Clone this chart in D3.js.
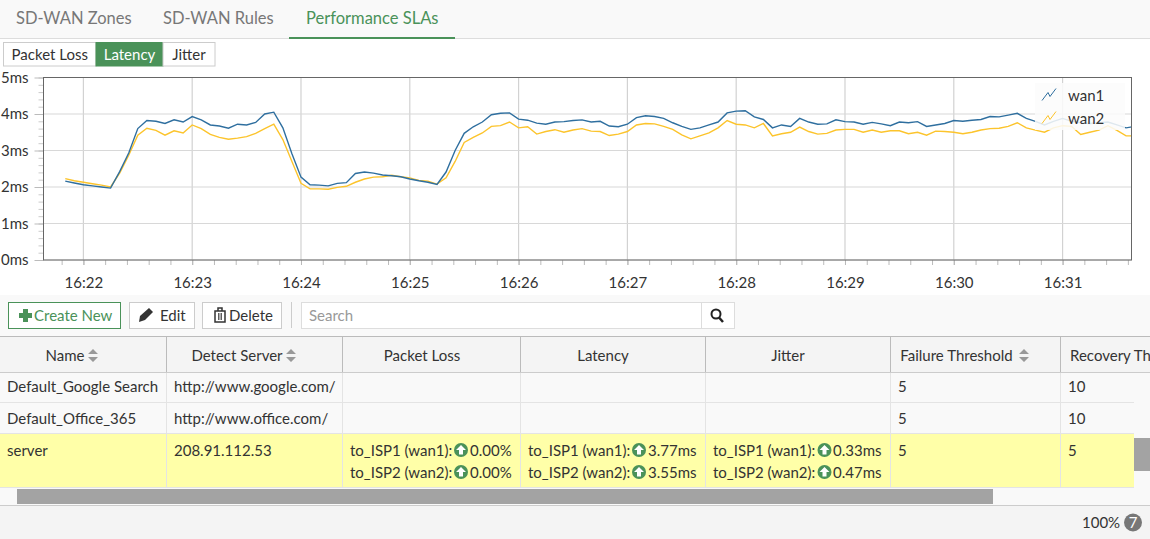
<!DOCTYPE html>
<html>
<head>
<meta charset="utf-8">
<script src="https://cdn.jsdelivr.net/npm/d3@7"></script>
<style>
html, body { margin: 0; padding: 0; background: #f9f9f9; overflow: hidden; }
svg { display: block; font-family: Lato, "Open Sans", sans-serif; }
</style>
</head>
<body>
<script>
// latency samples, one every 5 seconds starting at 16:21:50
var wan1 = [2.16,2.11,2.06,2.03,2.00,1.97,2.42,2.93,3.60,3.82,3.80,3.74,3.84,3.78,3.93,3.84,3.70,3.67,3.61,3.72,
	3.70,3.77,4.00,4.05,3.62,2.91,2.27,2.06,2.05,2.03,2.10,2.12,2.37,2.41,2.38,2.33,2.31,2.28,2.22,2.17,
	2.13,2.07,2.41,3.00,3.47,3.65,3.78,3.98,4.02,4.03,3.86,3.83,3.75,3.72,3.78,3.79,3.82,3.84,3.78,3.80,
	3.67,3.65,3.72,3.90,3.95,3.93,3.88,3.76,3.66,3.58,3.62,3.70,3.78,4.03,4.08,4.09,3.92,3.85,3.62,3.70,
	3.66,3.88,3.78,3.72,3.73,3.84,3.79,3.78,3.72,3.77,3.73,3.68,3.78,3.76,3.79,3.66,3.70,3.74,3.82,3.80,
	3.83,3.85,3.93,3.92,3.97,4.02,3.88,3.80,3.70,3.80,3.88,3.80,3.76,3.74,3.76,3.78,3.70,3.62,3.66];
var wan2 = [2.23,2.17,2.13,2.09,2.05,2.00,2.38,2.87,3.42,3.61,3.55,3.42,3.54,3.48,3.70,3.60,3.44,3.36,3.31,3.34,
	3.38,3.47,3.60,3.72,3.30,2.70,2.10,1.95,1.95,1.94,1.99,2.02,2.13,2.22,2.27,2.28,2.32,2.28,2.25,2.18,
	2.16,2.08,2.25,2.70,3.22,3.36,3.48,3.66,3.68,3.78,3.62,3.65,3.45,3.52,3.57,3.50,3.56,3.60,3.53,3.52,
	3.41,3.45,3.52,3.70,3.74,3.73,3.66,3.58,3.43,3.32,3.40,3.48,3.62,3.82,3.72,3.70,3.62,3.74,3.40,3.46,
	3.50,3.64,3.52,3.45,3.47,3.56,3.58,3.58,3.50,3.56,3.50,3.54,3.54,3.46,3.50,3.42,3.53,3.52,3.50,3.46,
	3.50,3.56,3.60,3.61,3.66,3.76,3.62,3.56,3.50,3.62,3.68,3.66,3.44,3.50,3.56,3.68,3.55,3.40,3.40];
var seriesNames = ["wan1", "wan2"];
var seriesColors = ["#2f6f9f", "#fcc42c"];
var msTicks = [0, 1, 2, 3, 4, 5];
var tabs = ["SD-WAN Zones", "SD-WAN Rules", "Performance SLAs"];
var modes = ["Packet Loss", "Latency", "Jitter"];
var headers = ["Name", "Detect Server", "Packet Loss", "Latency", "Jitter", "Failure Threshold", "Recovery Th"];
var rowGoogle = ["Default_Google Search", "http://www.google.com/", "", "", "", "5", "10"];
var rowOffice = ["Default_Office_365", "http://www.office.com/", "", "", "", "5", "10"];
var rowServer = ["server", "208.91.112.53", "", "", "", "5", "5"];
var lossValues = ["0.00%", "0.00%"];
var latencyValues = ["3.77ms", "3.55ms"];
var jitterValues = ["0.33ms", "0.47ms"];
var probes = ["to_ISP1 (wan1):", "to_ISP2 (wan2):"];

var green = "#4a9259", ink = "#333";
var svg = d3.select("body").append("svg").attr("width", 1150).attr("height", 539);

function rect(x, y, w, h, fill, stroke) {
	return svg.append("rect").attr("x", x).attr("y", y).attr("width", w).attr("height", h)
		.attr("fill", fill).attr("stroke", stroke || "none");
}
function label(x, y, s, color, anchor, size) {
	return svg.append("text").attr("x", x).attr("y", y).text(s)
		.attr("fill", color || ink).attr("text-anchor", anchor || "start").attr("font-size", size || 15);
}

// page bands
rect(0, 39, 1150, 256, "#fff");
rect(0, 38, 1150, 1, "#ddd");
var tabX = [16, 163, 306];
tabs.forEach(function(t, i) { label(tabX[i], 24, t, i == 2 ? green : "#777", "start", 16.5); });
rect(289, 37, 166, 2, green);

var modeX = [3.5, 96, 163], modeW = [92.5, 67, 52];
modes.forEach(function(m, i) {
	rect(modeX[i], 42.5, modeW[i], 23.5, i == 1 ? green : "#fff", i == 1 ? green : "#ccc");
	label(modeX[i] + modeW[i] / 2, 60, m, i == 1 ? "#fff" : ink, "middle", 15);
});

// chart
var start = new Date(2020, 0, 1, 16, 21, 50);
var times = wan1.map(function(d, i) { return d3.timeSecond.offset(start, i * 5); });
var x = d3.scaleTime()
	.domain([new Date(2020, 0, 1, 16, 21, 38), new Date(2020, 0, 1, 16, 31, 38)])
	.range([43.5, 1131.5]);
var y = d3.scaleLinear().domain([0, 5]).range([260, 77.5]);
var minuteTicks = d3.timeMinute.range(x.domain()[0], x.domain()[1]);

svg.append("clipPath").attr("id", "plot").append("rect")
	.attr("x", 43.5).attr("y", 77.5).attr("width", 1088).attr("height", 182.5);

var grid = svg.append("g").attr("stroke", "#d8d8d8").attr("stroke-width", 1.2);
grid.selectAll(".vg").data(minuteTicks).enter().append("line").attr("class", "vg")
	.attr("x1", x).attr("x2", x).attr("y1", 77.5).attr("y2", 260).attr("stroke", "#d2d2d2");
grid.selectAll(".hg").data(msTicks).enter().append("line").attr("class", "hg")
	.attr("x1", 43.5).attr("x2", 1131.5).attr("y1", y).attr("y2", y);

var line = d3.line()
	.x(function(d, i) { return x(times[i]); })
	.y(function(d) { return y(d); });
svg.append("g").attr("clip-path", "url(#plot)").selectAll("path")
	.data([wan2, wan1]).enter().append("path")
	.attr("d", line).attr("fill", "none").attr("stroke-width", 1.4)
	.attr("stroke", function(d, i) { return seriesColors[1 - i]; });

// minor ticks: 12 seconds and 0.2ms
svg.append("g").attr("transform", "translate(0,260)")
	.call(d3.axisBottom(x).tickValues(d3.timeSecond.every(12).range(x.domain()[0], x.domain()[1])).tickSize(5).tickFormat(""))
	.call(function(g) { g.select(".domain").remove(); g.selectAll("line").attr("stroke", "#bbb"); });
svg.append("g").attr("transform", "translate(43.5,0)")
	.call(d3.axisLeft(y).tickValues(d3.range(0, 5.01, 0.2)).tickSize(5).tickFormat(""))
	.call(function(g) { g.select(".domain").remove(); g.selectAll("line").attr("stroke", "#ccc"); });

svg.append("g").attr("transform", "translate(0,260)")
	.call(d3.axisBottom(x).tickValues(minuteTicks).tickSize(5).tickPadding(12).tickFormat(d3.timeFormat("%H:%M")))
	.call(function(g) {
		g.select(".domain").remove();
		g.selectAll("line").attr("stroke", "#bbb");
		g.selectAll("text").attr("fill", ink).attr("font-size", 15).attr("font-family", "Lato");
	});
svg.append("g").attr("transform", "translate(43.5,0)")
	.call(d3.axisLeft(y).tickValues(msTicks).tickSize(9).tickPadding(6).tickFormat(function(d) { return d + "ms"; }))
	.call(function(g) {
		g.select(".domain").remove();
		g.selectAll("line").attr("stroke", "#bbb");
		g.selectAll("text").attr("fill", ink).attr("font-size", 15).attr("font-family", "Lato");
	});
rect(43.5, 77.5, 1088, 182.5, "none", "#666");

// legend, drawn over the lines
rect(1035, 83, 90, 47, "#fbfbfb").attr("opacity", 0.86);
seriesNames.forEach(function(s, i) {
	var ly = 95.5 + i * 23;
	svg.append("path").attr("fill", "none").attr("stroke", seriesColors[i]).attr("stroke-width", 1)
		.attr("d", d3.line()([[1042, ly + 5], [1048, ly - 3], [1050, ly + 1], [1056, ly - 7]]));
	label(1068, ly + 5.5, s, ink, "start", 15);
});

// toolbar
rect(8.5, 302.5, 112, 26, "#fff", green);
svg.append("path").attr("d", "M23 322H28V318H32V313H28V309H23V313H19V318H23Z").attr("fill", green);
label(34, 320.5, "Create New", green);
rect(129.5, 302.5, 65, 26, "#fff", "#ccc");
svg.append("path").attr("d", "M139 322L140 316L149 308L153 312L145 320Z").attr("fill", ink);
label(160, 320.5, "Edit");
rect(202.5, 302.5, 79, 26, "#fff", "#ccc");
svg.append("path").attr("d", "M215 311H225V322H215Z M218 311V308H222V311").attr("fill", "none").attr("stroke", ink).attr("stroke-width", 1.5);
svg.append("path").attr("d", "M218.5 313V320M220 313V320M221.5 313V320").attr("stroke", ink).attr("stroke-width", 0.8);
label(229, 320.5, "Delete");
rect(291, 302, 1, 26, "#ccc");
rect(301.5, 302.5, 400, 26, "#fff", "#ddd");
label(309, 320.5, "Search", "#999");
rect(701.5, 302.5, 33, 26, "#fff", "#ddd");
svg.append("circle").attr("cx", 716).attr("cy", 314).attr("r", 4.5).attr("fill", "none").attr("stroke", "#222").attr("stroke-width", 2);
svg.append("line").attr("x1", 719).attr("y1", 317.5).attr("x2", 723).attr("y2", 322).attr("stroke", "#222").attr("stroke-width", 2.5);

// table
var colX = [0, 166, 342, 520, 705, 890, 1060, 1150];
rect(0, 336.5, 1150, 36, "#f4f4f4");
rect(0, 372, 1134, 61.5, "#f9f9f9");
rect(0, 433.5, 1134, 54, "#ffffa8");
rect(0, 336, 1150, 1, "#bbb");
rect(0, 372, 1150, 1, "#ccc");
rect(0, 402, 1134, 1, "#e4e4e4");
rect(0, 433, 1134, 1, "#e4e4e4");
rect(0, 487, 1134, 1, "#e4e4e4");
colX.slice(1, 7).forEach(function(cx) {
	rect(cx, 337, 1, 35, "#bbb");
	rect(cx, 373, 1, 114, "#e4e4e4");
});

var headerCenter = [65, 237, 422, 603, 788, 956.5, 1110.5];
headers.forEach(function(h, i) { label(headerCenter[i], 361, h, ink, "middle"); });
[93, 291, 1024].forEach(function(sx) {
	svg.append("path").attr("fill", "#999")
		.attr("d", "M" + (sx - 5) + " 354L" + sx + " 349L" + (sx + 5) + " 354Z M" + (sx - 5) + " 357L" + sx + " 362L" + (sx + 5) + " 357Z");
});

[rowGoogle, rowOffice, rowServer].forEach(function(row, r) {
	row.forEach(function(c, i) {
		if (c) label(colX[i] + (i == 0 ? 7 : 8), [392, 424, 456][r], c);
	});
});

function statusCell(cx, iconX, valueX, values) {
	values.forEach(function(v, i) {
		var by = 456 + i * 22;
		label(cx, by, probes[i]);
		svg.append("circle").attr("cx", iconX).attr("cy", by - 6).attr("r", 7).attr("fill", green);
		svg.append("path").attr("fill", "#fff").attr("transform", "translate(" + iconX + "," + (by - 6) + ")")
			.attr("d", "M0 -5L5 0H2V4.5H-2V0H-5Z");
		label(valueX, by, v);
	});
}
statusCell(350, 461, 470, lossValues);
statusCell(528, 639, 648, latencyValues);
statusCell(713, 824.5, 833, jitterValues);

// scrollbars and footer
rect(17, 489, 976, 15, "#a3a3a3");
rect(1134, 438, 16, 33, "#a3a3a3");
rect(0, 505, 1150, 34, "#f4f4f4");
rect(0, 505, 1150, 1, "#ccc");
label(1082, 528, "100%");
svg.append("circle").attr("cx", 1133).attr("cy", 522.5).attr("r", 9).attr("fill", "#777");
label(1133, 528, "7", "#fff", "middle");
</script>
</body>
</html>
